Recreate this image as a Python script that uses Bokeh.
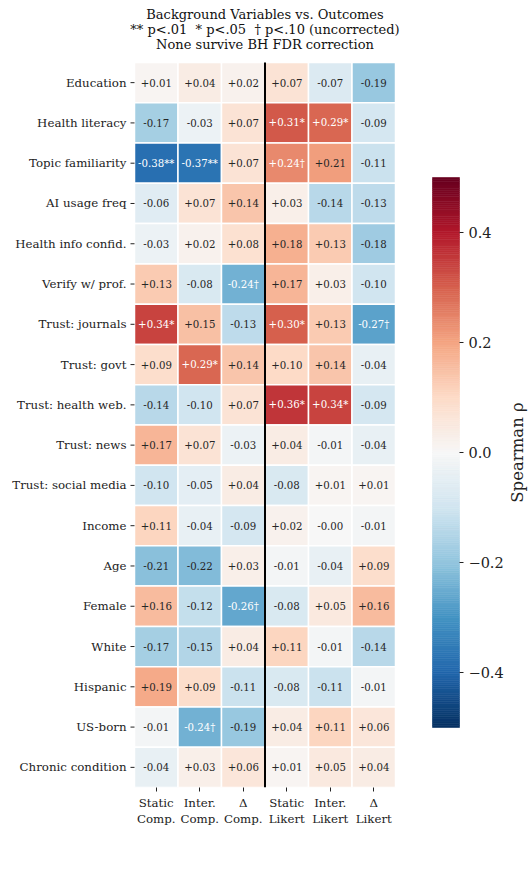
import math
import numpy as np
from bokeh.plotting import figure
from bokeh.models import ColumnDataSource, Range1d, FixedTicker
from bokeh.embed import file_html
from bokeh.resources import INLINE
from bokeh.core.properties import value

# ---------------- data ----------------
rows = ["Education", "Health literacy", "Topic familiarity", "AI usage freq",
        "Health info confid.", "Verify w/ prof.", "Trust: journals", "Trust: govt",
        "Trust: health web.", "Trust: news", "Trust: social media", "Income", "Age",
        "Female", "White", "Hispanic", "US-born", "Chronic condition"]
cols = ["Static\nComp.", "Inter.\nComp.", "\u0394\nComp.",
        "Static\nLikert", "Inter.\nLikert", "\u0394\nLikert"]
n_comp_cols = 3

static_comp = [0.01, -0.17, -0.38, -0.06, -0.03, 0.13, 0.34, 0.09, -0.14, 0.17, -0.10, 0.11, -0.21, 0.16, -0.17, 0.19, -0.01, -0.04]
inter_comp  = [0.04, -0.03, -0.37, 0.07, 0.02, -0.08, 0.15, 0.29, -0.10, 0.07, -0.05, -0.04, -0.22, -0.12, -0.15, 0.09, -0.24, 0.03]
delta_comp  = [0.02, 0.07, 0.07, 0.14, 0.08, -0.24, -0.13, 0.14, 0.07, -0.03, 0.04, -0.09, 0.03, -0.26, 0.04, -0.11, -0.19, 0.06]
static_lik  = [0.07, 0.31, 0.24, 0.03, 0.18, 0.17, 0.30, 0.10, 0.36, 0.04, -0.08, 0.02, -0.01, -0.08, 0.11, -0.08, 0.04, 0.01]
inter_lik   = [-0.07, 0.29, 0.21, -0.14, 0.13, 0.03, 0.13, 0.14, 0.34, -0.01, 0.01, -0.00, -0.04, 0.05, -0.01, -0.11, 0.11, 0.05]
delta_lik   = [-0.19, -0.09, -0.11, -0.13, -0.18, -0.10, -0.27, -0.04, -0.09, -0.04, 0.01, -0.01, 0.09, 0.16, -0.14, -0.01, 0.06, 0.04]

sig_static_comp = ["", "", "**", "", "", "", "*", "", "", "", "", "", "", "", "", "", "", ""]
sig_inter_comp  = ["", "", "**", "", "", "", "", "*", "", "", "", "", "", "", "", "", "\u2020", ""]
sig_delta_comp  = ["", "", "", "", "", "\u2020", "", "", "", "", "", "", "", "\u2020", "", "", "", ""]
sig_static_lik  = ["", "*", "\u2020", "", "", "", "*", "", "*", "", "", "", "", "", "", "", "", ""]
sig_inter_lik   = ["", "*", "", "", "", "", "", "", "*", "", "", "", "", "", "", "", "", ""]
sig_delta_lik   = ["", "", "", "", "", "", "\u2020", "", "", "", "", "", "", "", "", "", "", ""]

cbar_ticks = [-0.4, -0.2, 0.0, 0.2, 0.4]
cbar_tick_labels = ["\u22120.4", "\u22120.2", "0.0", "0.2", "0.4"]
vmin, vmax = -0.5, 0.5
cbar_label = "Spearman \u03c1"

title_lines = ["Background Variables vs. Outcomes",
               "** p<.01 \u00a0* p<.05 \u00a0\u2020 p<.10 (uncorrected)",
               "None survive BH FDR correction"]

# ---------------- colormap (matplotlib RdBu_r) ----------------
rdbu = ["#67001f", "#b2182b", "#d6604d", "#f4a582", "#fddbc7", "#f7f7f7",
        "#d1e5f0", "#92c5de", "#4393c3", "#2166ac", "#053061"][::-1]
anchors = np.array([[int(c[i:i+2], 16) for i in (1, 3, 5)] for c in rdbu], float)
def cmap(v):
    t = (np.clip(v, vmin, vmax) - vmin) / (vmax - vmin) * (len(anchors) - 1)
    i = min(int(np.floor(t)), len(anchors) - 2)
    f = t - i
    c = anchors[i] * (1 - f) + anchors[i + 1] * f
    return "#%02x%02x%02x" % tuple(int(round(x)) for x in c)

FONT = "DejaVu Serif"
TXT = "#222222"

# ---------------- layout constants (pixels, page coords) ----------------
W, H = 529, 860
hm_left, hm_top = 134, 62
hm_w, hm_h = 261, 725
cb_left, cb_right = 432, 459
cb_top, cb_bot = 177, 727
title_y = [14, 29, 44]
cb_label_x = 517
row_label_right = 126
row_tick_len = 4

nrow, ncol = len(rows), len(cols)
px_x = hm_w / ncol
px_y = hm_h / nrow
def dx(px):  # page x -> data x
    return (px - hm_left) / px_x
def dy(py):  # page y -> data y (rows)
    return (py - hm_top) / px_y

frame_bottom = hm_top + hm_h
cb_ppu = (cb_bot - cb_top) / (vmax - vmin)
cb_range = Range1d(vmin - (frame_bottom - cb_bot) / cb_ppu, vmax + cb_top / cb_ppu)

# ---------------- heatmap ----------------
series = [static_comp, inter_comp, delta_comp, static_lik, inter_lik, delta_lik]
sigs = [sig_static_comp, sig_inter_comp, sig_delta_comp, sig_static_lik, sig_inter_lik, sig_delta_lik]

xs, ys, vals, colors, labels, tcolors = [], [], [], [], [], []
for j, (s, sg) in enumerate(zip(series, sigs)):
    for i, v in enumerate(s):
        xs.append(j + 0.5)
        ys.append(i + 0.5)
        vals.append(v)
        colors.append(cmap(v))
        sign = "-" if math.copysign(1.0, v) < 0 else "+"
        labels.append(sign + "%.2f" % abs(v) + sg[i])
        tcolors.append("white" if sg[i] else "#262626")

src = ColumnDataSource(dict(x=xs, y=ys, v=vals, c=colors, t=labels, tc=tcolors))

p = figure(width=W, height=H, output_backend="svg", toolbar_location=None,
           x_range=Range1d(dx(0), dx(W)), y_range=Range1d(nrow, dy(0)),
           min_border_left=0, min_border_right=0,
           min_border_top=0, min_border_bottom=H - frame_bottom,
           y_axis_location=None)
p.outline_line_color = None
p.grid.visible = False
p.background_fill_color = "white"
p.border_fill_color = "white"
p.extra_y_ranges = {"cb": cb_range}

p.rect(x="x", y="y", width=1, height=1, fill_color="c", line_color="white", line_width=1.5, source=src)
p.text(x="x", y="y", text="t", text_color="tc", text_align="center", text_baseline="middle",
       text_font=value(FONT), text_font_size="10.2px", source=src)
p.line([n_comp_cols, n_comp_cols], [0, nrow], line_color="black", line_width=2)

# bottom (column) axis
p.xaxis.ticker = FixedTicker(ticks=[j + 0.5 for j in range(ncol)])
p.xaxis.major_label_overrides = {j + 0.5: cols[j] for j in range(ncol)}
ax = p.xaxis[0]
ax.axis_line_color = None
ax.major_tick_in = 0
ax.major_tick_out = 4
ax.major_tick_line_color = TXT
ax.minor_tick_line_color = None
ax.major_label_text_font = FONT
ax.major_label_text_font_size = "11.8px"
ax.major_label_text_color = TXT
ax.major_label_standoff = 4

# row labels and ticks
row_y = [i + 0.5 for i in range(nrow)]
p.segment(x0=[dx(hm_left - row_tick_len)] * nrow, x1=[0] * nrow, y0=row_y, y1=row_y,
          line_color=TXT, line_width=1)
p.text(x=[dx(row_label_right)] * nrow, y=row_y, text=rows, text_align="right",
       text_baseline="middle", text_font=value(FONT), text_font_size="11.8px", text_color=TXT)

# title lines (centred over heatmap)
p.text(x=[ncol / 2] * len(title_lines), y=[dy(t) for t in title_y], text=title_lines,
       text_align="center", text_baseline="middle", text_font=value(FONT),
       text_font_size="13px", text_color="#111111")

# ---------------- colourbar ----------------
nstep = 256
edges = np.linspace(vmin, vmax, nstep + 1)
cfill = [cmap((a + b) / 2) for a, b in zip(edges[:-1], edges[1:])]
p.quad(left=dx(cb_left), right=dx(cb_right), bottom=edges[:-1], top=edges[1:], y_range_name="cb",
       fill_color=cfill, line_color=cfill, line_width=0.6)
p.segment(x0=[dx(cb_right)] * len(cbar_ticks), x1=[dx(cb_right + 4)] * len(cbar_ticks),
          y0=cbar_ticks, y1=cbar_ticks, y_range_name="cb", line_color=TXT, line_width=1)
p.text(x=[dx(cb_right + 9)] * len(cbar_ticks), y=cbar_ticks, text=cbar_tick_labels,
       y_range_name="cb", text_align="left", text_baseline="middle", text_font=value(FONT),
       text_font_size="14.5px", text_color=TXT)
p.text(x=[dx(cb_label_x)], y=[0.0], text=[cbar_label], y_range_name="cb", angle=math.pi / 2,
       text_align="center", text_baseline="middle", text_font=value(FONT),
       text_font_size="16.5px", text_color=TXT)

open("out.html", "w").write(file_html(p, INLINE))
